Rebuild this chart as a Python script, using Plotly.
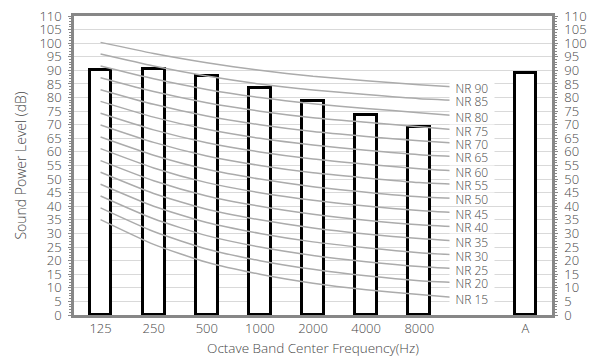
import plotly.graph_objects as go

categories = ["125", "250", "500", "1000", "2000", "4000", "8000", "", "A"]
power_levels = [90.0, 90.5, 87.8, 83.4, 78.7, 73.4, 69.1, None, 89.2]

nr_labels = ["NR 15", "NR 20", "NR 25", "NR 30", "NR 35", "NR 40", "NR 45", "NR 50",
             "NR 55", "NR 60", "NR 65", "NR 70", "NR 75", "NR 80", "NR 85", "NR 90"]
nr15 = [35.1, 26.0, 19.4, 15.0, 11.7, 9.3, 7.5, 5.9]
nr20 = [39.4, 30.7, 24.3, 20.0, 16.8, 14.4, 12.6, 11.7]
nr25 = [43.8, 35.4, 29.2, 25.0, 21.9, 19.6, 17.8, 16.7]
nr30 = [48.1, 40.0, 34.0, 30.0, 26.9, 24.7, 22.9, 21.8]
nr35 = [52.5, 44.7, 38.9, 35.0, 32.0, 29.8, 28.1, 26.9]
nr40 = [56.8, 49.4, 43.8, 40.0, 37.1, 34.9, 33.2, 32.2]
nr45 = [61.2, 54.1, 48.7, 45.0, 42.2, 40.1, 38.4, 37.3]
nr50 = [65.5, 58.8, 53.6, 50.0, 47.2, 45.2, 43.5, 42.7]
nr55 = [69.9, 63.5, 58.5, 55.0, 52.3, 50.4, 48.7, 47.8]
nr60 = [74.2, 68.1, 63.4, 60.0, 57.4, 55.5, 53.8, 52.7]
nr65 = [78.6, 72.8, 68.3, 65.0, 62.5, 60.6, 59.0, 58.1]
nr70 = [82.9, 77.5, 73.2, 70.0, 67.5, 65.7, 64.1, 62.8]
nr75 = [87.3, 82.2, 78.1, 75.0, 72.6, 70.9, 69.3, 67.6]
nr80 = [91.6, 86.9, 83.0, 80.0, 77.7, 76.0, 74.4, 72.8]
nr85 = [96.0, 91.6, 87.9, 85.0, 82.8, 81.1, 79.6, 78.8]
nr90 = [100.3, 96.2, 92.8, 90.0, 87.8, 86.2, 84.7, 83.5]
nr_curves = [nr15, nr20, nr25, nr30, nr35, nr40, nr45, nr50,
             nr55, nr60, nr65, nr70, nr75, nr80, nr85, nr90]

y_ticks = list(range(0, 111, 5))

FONT = "Open Sans"
TXT = "#474747"
AX = "#878787"

fig = go.Figure()
idx = list(range(len(categories)))
fig.add_trace(go.Bar(
    x=idx, y=power_levels, width=0.41,
    marker=dict(color="white", line=dict(color="black", width=3)),
    showlegend=False, hoverinfo="skip"))

for name, vals in zip(nr_labels, nr_curves):
    fig.add_trace(go.Scatter(
        x=idx[:len(vals)], y=vals, mode="lines",
        line=dict(color="#ababab", width=1.5, shape="spline", smoothing=0.6),
        showlegend=False, hoverinfo="skip"))
    fig.add_annotation(
        x=len(vals) - 1, y=vals[-1], text=name, showarrow=False,
        bgcolor="white", width=44, height=12, borderpad=0,
        font=dict(family=FONT, size=12, color=TXT, weight=300))

fig.add_trace(go.Scatter(x=[None], y=[None], yaxis="y2", showlegend=False))

yax_common = dict(
    range=[0, 110], tickvals=y_ticks, ticks="outside", ticklen=3, tickcolor=AX,
    showline=True, linecolor=AX, linewidth=2.5, automargin=False,
    minor=dict(dtick=1, ticks="outside", ticklen=2, tickcolor=AX, showgrid=False),
    tickfont=dict(family=FONT, size=13, color=TXT, weight=300), zeroline=False,
    ticklabelstandoff=4,
)

fig.update_layout(
    width=591, height=359,
    margin=dict(l=74, r=38.5, t=15.5, b=43.5, autoexpand=False),
    plot_bgcolor="white", paper_bgcolor="white",
    bargap=0,
    xaxis=dict(
        range=[-0.5, 8.5], tickvals=idx, ticktext=categories, automargin=False,
        showgrid=False, showline=True, linecolor=AX, linewidth=2.5, mirror=True,
        ticks="", layer="below traces", zeroline=False,
        tickfont=dict(family=FONT, size=13, color=TXT, weight=300),
        title=dict(text="Octave Band Center Frequency(Hz)",
                   font=dict(family=FONT, size=13.5, color=TXT, weight=300), standoff=8),
    ),
    yaxis=dict(
        **yax_common, showgrid=True, gridcolor="#d9d9d9", gridwidth=1,
        title=dict(text="Sound Power Level (dB)",
                   font=dict(family=FONT, size=14, color=TXT, weight=300), standoff=10),
    ),
    yaxis2=dict(**yax_common, overlaying="y", side="right", showgrid=False),
)

fig.write_html("out.html")
